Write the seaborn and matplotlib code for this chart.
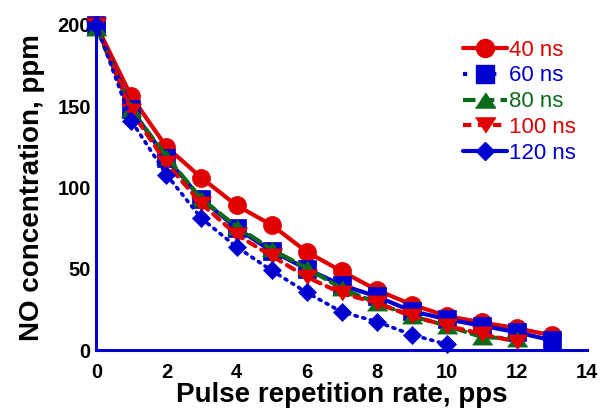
import matplotlib
matplotlib.use("Agg")
import matplotlib.pyplot as plt
from matplotlib.lines import Line2D
import seaborn as sns
import pandas as pd

# ---- data ----
rate_40 = [0, 1, 2, 3, 4, 5, 6, 7, 8, 9, 10, 11, 12, 13]
no_40 = [200, 156, 125, 106, 89, 77, 60.5, 48.5, 37, 28, 21, 17, 13.5, 9]
rate_60 = [0, 1, 2, 3, 4, 5, 6, 7, 8, 9, 10, 11, 12, 13]
no_60 = [200, 148, 118, 93, 75, 61, 50, 40, 33, 24, 19, 15, 11, 6]
rate_80 = [0, 1, 2, 3, 4, 5, 6, 7, 8, 9, 10, 11, 12]
no_80 = [198, 148, 119, 93, 76, 62, 50.5, 38, 29, 21, 15, 8, 7]
rate_100 = [0, 1, 2, 3, 4, 5, 6, 7, 8, 9, 10, 11, 12]
no_100 = [200, 147, 115, 90, 71, 58, 45, 35, 29, 21, 15, 10, 5]
rate_120 = [0, 1, 2, 3, 4, 5, 6, 7, 8, 9, 10]
no_120 = [200, 141, 108, 81, 63.5, 49, 35.5, 23.5, 17.5, 9.5, 3.5]
labels = ["40 ns", "60 ns", "80 ns", "100 ns", "120 ns"]
x_ticks = [0, 2, 4, 6, 8, 10, 12, 14]
y_ticks = [0, 50, 100, 150, 200]

RED = "#e00000"
BLUE = "#0000d0"
GREEN = "#0b6b1b"

sns.set_style("white")
plt.rcParams["font.family"] = ["Liberation Sans", "DejaVu Sans"]

fig = plt.figure(figsize=(6.02, 4.09), dpi=100)
ax = fig.add_axes([0.160, 0.144, 0.815, 0.795])

tri_up = [(-1, -0.75), (1, -0.75), (0, 0.75)]
tri_dn = [(-1, 0.75), (1, 0.75), (0, -0.75)]

series = [
    (rate_40, no_40, RED, "o", 13, "-", 3.0),
    (rate_60, no_60, BLUE, "s", 13.5, "-", 3.0),
    (rate_80, no_80, GREEN, tri_up, 14.5, (0, (3, 1.5)), 3.0),
    (rate_100, no_100, RED, tri_dn, 14.5, (0, (2, 1.6)), 3.0),
    (rate_120, no_120, BLUE, "D", 9.2, (0, (0.6, 1.6)), 2.6),
]

for (xs, ys, col, mk, ms, ls, lw), lab in zip(series, labels):
    df = pd.DataFrame({"rate": xs, "no": ys})
    sns.lineplot(data=df, x="rate", y="no", ax=ax, color=col, marker=mk,
                 markersize=ms, markeredgecolor=col, markerfacecolor=col,
                 markeredgewidth=0.5, linestyle=ls, linewidth=lw,
                 clip_on=False, dash_capstyle="round", legend=False)

ax.set_xlim(0, 14)
ax.set_ylim(0, 200)
ax.set_xticks(x_ticks)
ax.set_yticks(y_ticks)
ax.set_xticks(list(range(1, 14, 2)), minor=True)
ax.set_yticks([25, 75, 125, 175], minor=True)

for side in ["top", "right"]:
    ax.spines[side].set_visible(False)
for side in ["left", "bottom"]:
    ax.spines[side].set_color(BLUE)
    ax.spines[side].set_linewidth(2.2)

ax.tick_params(axis="both", which="major", direction="in", length=13,
               width=2.2, color=BLUE, labelsize=14.5, pad=4,
               labelcolor="black")
ax.tick_params(axis="x", which="major", pad=9)
ax.tick_params(axis="both", which="minor", direction="in", length=7,
               width=2.2, color=BLUE)
for lab in ax.get_xticklabels() + ax.get_yticklabels():
    lab.set_fontweight("bold")

ax.set_xlabel("Pulse repetition rate, pps", fontsize=20, fontweight="bold",
              labelpad=0, color="black")
ax.set_ylabel("NO concentration, ppm", fontsize=20, fontweight="bold",
              labelpad=9, color="black")

# legend reproducing the reference legend appearance
handles = [
    Line2D([], [], color=RED, marker="o", markersize=13, linestyle="-", linewidth=3),
    Line2D([], [], color=BLUE, marker="s", markersize=13.5, linestyle=(0, (1, 6)), linewidth=3),
    Line2D([], [], color=GREEN, marker=tri_up, markersize=14.5, linestyle=(0, (3, 1.5)), linewidth=3),
    Line2D([], [], color=RED, marker=tri_dn, markersize=14.5, linestyle=(0, (2, 1.6)), linewidth=3),
    Line2D([], [], color=BLUE, marker="D", markersize=9.2, linestyle="-", linewidth=3),
]
leg = ax.legend(handles, labels, loc="upper left", bbox_to_anchor=(0.748, 0.955),
                frameon=False, fontsize=16, handlelength=1.95, handletextpad=0.1,
                labelspacing=0.22, borderaxespad=0, borderpad=0)
for txt, col in zip(leg.get_texts(), [RED, BLUE, GREEN, RED, BLUE]):
    txt.set_color(col)

fig.savefig("out.png", dpi=100)
